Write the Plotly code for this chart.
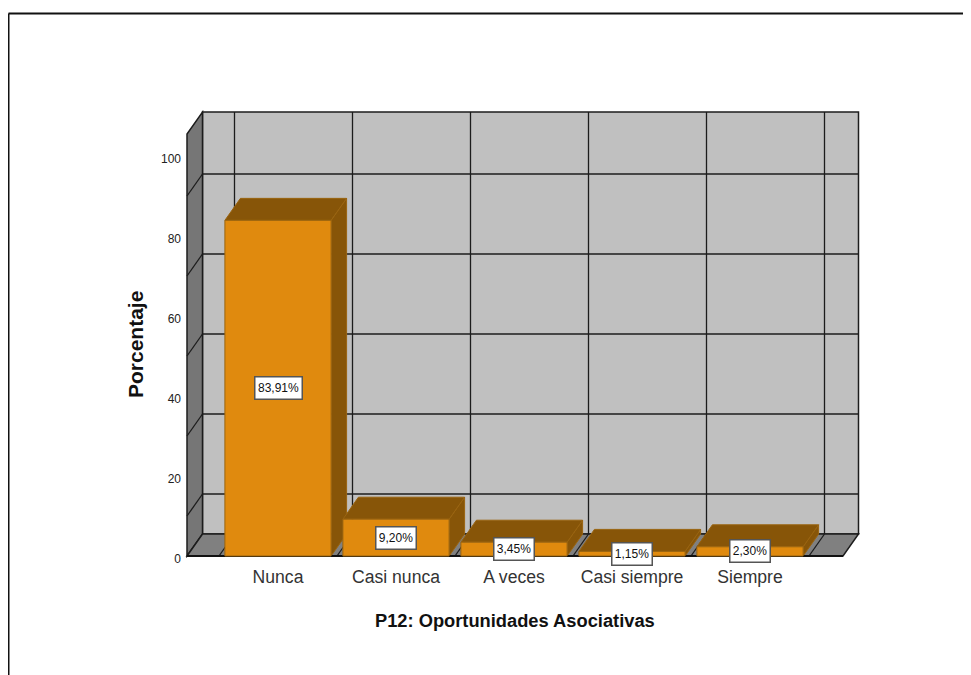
import plotly.graph_objects as go

categories = ["Nunca", "Casi nunca", "A veces", "Casi siempre", "Siempre"]
percentages = [83.91, 9.20, 3.45, 1.15, 2.30]
bar_labels = ["83,91%", "9,20%", "3,45%", "1,15%", "2,30%"]
y_ticks = [0, 20, 40, 60, 80, 100]
back_grid = [10, 30, 50, 70, 90]

# the page puts the figure 8 px in from the window corner
OFFSET = 8
WIDTH, HEIGHT = 971 - OFFSET, 675 - OFFSET
BAR_COLOR = "#e08a0e"
DARK_COLOR = "#875508"
EDGE_COLOR = "#9a6410"
FONT = "Liberation Sans"

# pixel box of the plot and the axis ranges that give 118 px per category, 4 px per percent
left, right, top, bottom = 182, 866, 105, 560
x_range = [(left - 278) / 118, (right - 278) / 118]
y_range = [(556 - bottom) / 4, (556 - top) / 4]

# fake 3D depth, in axis units
dx = 15.5 / 118
dy = 22 / 4
bar_w = 0.9
wall_top = 105.5
x_lo = (187 - 278) / 118
x_hi = (843 - 278) / 118


def poly(pts, fill, line_color, width=1):
    path = "M " + " L ".join("{} {}".format(x, y) for x, y in pts) + " Z"
    return dict(type="path", path=path, xref="x", yref="y", layer="below",
                fillcolor=fill, line=dict(color=line_color, width=width))


def seg(x0, y0, x1, y1, color="#1c1c1c", width=1.3):
    return dict(type="line", x0=x0, y0=y0, x1=x1, y1=y1, xref="x", yref="y", layer="below",
                line=dict(color=color, width=width))


shapes = []
# walls and floor
shapes.append(poly([(x_lo + dx, dy), (x_hi + dx, dy), (x_hi + dx, wall_top + dy), (x_lo + dx, wall_top + dy)],
                   "#c0c0c0", "#1c1c1c", 1.5))
shapes.append(poly([(x_lo, 0), (x_lo + dx, dy), (x_lo + dx, wall_top + dy), (x_lo, wall_top)],
                   "#767676", "#1c1c1c", 1.5))
shapes.append(poly([(x_lo, 0), (x_lo + dx, dy), (x_hi + dx, dy), (x_hi, 0)],
                   "#808080", "#1c1c1c", 1.5))

# grid on the back wall, left wall and floor
for g in back_grid:
    shapes.append(seg(x_lo + dx, g + dy, x_hi + dx, g + dy))
    shapes.append(seg(x_lo, g, x_lo + dx, g + dy))
for i in range(len(categories) + 1):
    shapes.append(seg(i - 0.5 + dx, dy, i - 0.5 + dx, wall_top + dy))
    shapes.append(seg(i - 0.5, 0, i - 0.5 + dx, dy))

# side and top faces of the bars
for i, v in enumerate(percentages):
    x0, x1 = i - bar_w / 2, i + bar_w / 2
    shapes.append(poly([(x1, 0), (x1 + dx, dy), (x1 + dx, v + dy), (x1, v)], DARK_COLOR, EDGE_COLOR))
    shapes.append(poly([(x0, v), (x1, v), (x1 + dx, v + dy), (x0 + dx, v + dy)], DARK_COLOR, EDGE_COLOR))

shapes.append(seg(x_lo, 0, x_hi, 0, "#111111", 2))


# page frame and titles, given in pixels of the window
def px(x):
    return (x - left) / (right - left)


def py(y):
    return (bottom - y) / (bottom - top)


shapes.append(dict(type="line", xref="paper", yref="paper", x0=px(8.5), x1=px(970), y0=py(13.5), y1=py(13.5),
                   line=dict(color="#111111", width=2)))
shapes.append(dict(type="line", xref="paper", yref="paper", x0=px(8.5), x1=px(8.5), y0=py(13.5), y1=py(675),
                   line=dict(color="#111111", width=2)))

fig = go.Figure(go.Bar(
    x=list(range(len(categories))),
    y=percentages,
    width=bar_w,
    marker=dict(color=BAR_COLOR, line=dict(color=EDGE_COLOR, width=1)),
    hoverinfo="skip",
))

annotations = []
for i, (v, label) in enumerate(zip(percentages, bar_labels)):
    annotations.append(dict(x=i, y=v / 2, xref="x", yref="y", text=label, showarrow=False,
                            xanchor="center", yanchor="middle",
                            width=7 * len(label), height=17,
                            font=dict(family=FONT, size=12, color="#111111"),
                            bgcolor="white", bordercolor="#555555", borderwidth=1.5, borderpad=2))
annotations.append(dict(x=px(515), y=py(620), xref="paper", yref="paper", showarrow=False,
                        xanchor="center", yanchor="middle",
                        text="<b>P12: Oportunidades Asociativas</b>",
                        font=dict(family=FONT, size=18.3, color="#111111")))
annotations.append(dict(x=px(135), y=py(345), xref="paper", yref="paper", showarrow=False, textangle=-90,
                        xanchor="center", yanchor="middle",
                        text="<b>Porcentaje</b>",
                        font=dict(family=FONT, size=21, color="#111111")))

fig.update_layout(
    width=WIDTH, height=HEIGHT,
    margin=dict(l=left - OFFSET, r=WIDTH + OFFSET - right, t=top - OFFSET, b=HEIGHT + OFFSET - bottom, pad=0),
    paper_bgcolor="white", plot_bgcolor="white",
    showlegend=False, shapes=shapes, annotations=annotations,
    xaxis=dict(range=x_range, tickmode="array", tickvals=list(range(len(categories))), ticktext=categories,
               showgrid=False, zeroline=False, showline=False, ticks="", ticklabelstandoff=4,
               tickfont=dict(family=FONT, size=17.6, color="#333333")),
    yaxis=dict(range=y_range, tickmode="array", tickvals=y_ticks, showgrid=False, zeroline=False,
               showline=False, ticks="", ticklabelshift=3,
               tickfont=dict(family=FONT, size=12, color="#222222")),
)

fig.write_html("out.html")
